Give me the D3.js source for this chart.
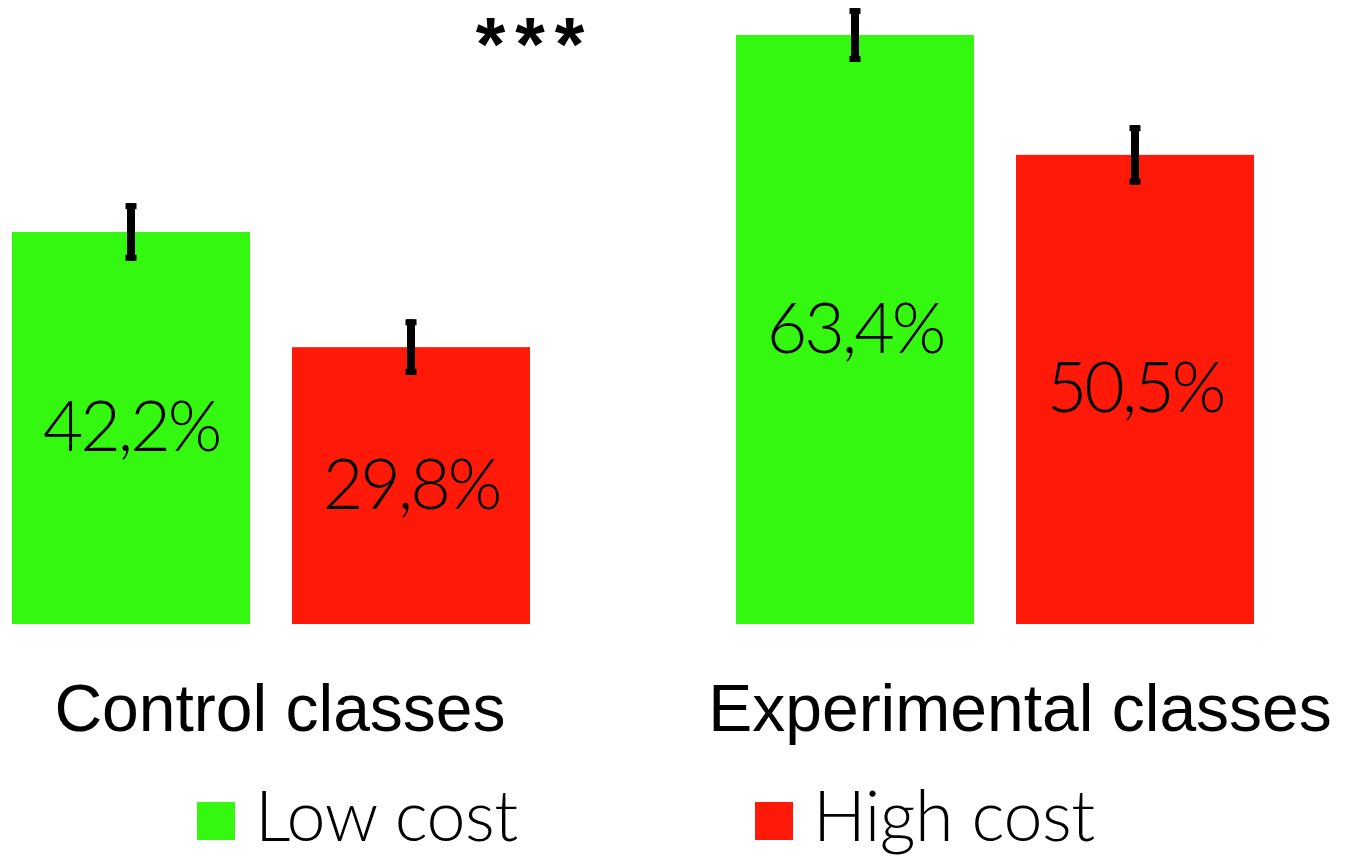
<!DOCTYPE html>
<html><head><meta charset="utf-8">
<script src="https://cdn.jsdelivr.net/npm/d3@7"></script>
<style>body{margin:0;background:#fff;}svg{display:block;}</style>
</head><body>
<svg id="chart" width="1348" height="856"></svg>
<script>
const groups = ["Control classes", "Experimental classes"];
const seriesNames = ["Low cost", "High cost"];
const lowCost = [42.2, 63.4];
const highCost = [29.8, 50.5];
const lowErr = [3.1, 2.9];
const highErr = [3.0, 3.2];
const valueLabels = [["42,2%", "29,8%"], ["63,4%", "50,5%"]];
const colors = ["#34f810", "#fe1909"];

const svg = d3.select("#chart");
const x0 = d3.scaleBand().domain(groups).range([12, 1254]).paddingInner(0.2845).paddingOuter(0);
const x1 = d3.scaleBand().domain(seriesNames).range([0, x0.bandwidth()]).paddingInner(0.15).paddingOuter(0);
const y = d3.scaleLinear().domain([0, 70]).range([624, 624 - 9.29 * 70]);

const data = [];
groups.forEach((g, i) => {
  data.push({g, s: seriesNames[0], v: lowCost[i], e: lowErr[i], label: valueLabels[i][0], c: colors[0]});
  data.push({g, s: seriesNames[1], v: highCost[i], e: highErr[i], label: valueLabels[i][1], c: colors[1]});
});

svg.selectAll("rect.bar").data(data).join("rect").attr("class", "bar")
  .attr("x", d => x0(d.g) + x1(d.s))
  .attr("y", d => y(d.v))
  .attr("width", x1.bandwidth())
  .attr("height", d => y(0) - y(d.v))
  .attr("fill", d => d.c);

svg.selectAll("text.val").data(data).join("text").attr("class", "val")
  .attr("x", d => x0(d.g) + x1(d.s) + x1.bandwidth() / 2)
  .attr("y", d => (y(d.v) + y(0)) / 2 - 4)
  .attr("text-anchor", "middle")
  .attr("dominant-baseline", "central")
  .attr("font-family", "Lato, 'Open Sans', sans-serif")
  .attr("font-weight", 300)
  .attr("font-size", 70)
  .attr("letter-spacing", -3)
  .attr("fill", "#000")
  .text(d => d.label);

// error bars
const eb = svg.selectAll("g.err").data(data).join("g").attr("class", "err");
eb.append("line")
  .attr("x1", d => x0(d.g) + x1(d.s) + x1.bandwidth() / 2)
  .attr("x2", d => x0(d.g) + x1(d.s) + x1.bandwidth() / 2)
  .attr("y1", d => y(d.v + d.e))
  .attr("y2", d => y(d.v - d.e))
  .attr("stroke", "#000").attr("stroke-width", 8);
eb.selectAll("rect.cap").data(d => [d.v + d.e, d.v - d.e].map(v => ({v, cx: x0(d.g) + x1(d.s) + x1.bandwidth() / 2, top: v > d.v})))
  .join("rect").attr("class", "cap")
  .attr("x", c => c.cx - 5.5)
  .attr("y", c => c.top ? y(c.v) : y(c.v) - 6)
  .attr("width", 11).attr("height", 6).attr("fill", "#000");

// category labels
svg.selectAll("text.cat").data(groups).join("text").attr("class", "cat")
  .attr("x", (g, i) => i === 0 ? 280 : 1020)
  .attr("y", 731)
  .attr("text-anchor", "middle")
  .attr("font-family", "'Liberation Sans', Arial, sans-serif")
  .attr("font-size", 66)
  .attr("fill", "#000")
  .text(g => g);

// significance
svg.append("text")
  .attr("x", 535).attr("y", 70)
  .attr("text-anchor", "middle")
  .attr("font-family", "'Liberation Sans', Arial, sans-serif")
  .attr("font-weight", "bold")
  .attr("font-size", 76)
  .attr("letter-spacing", 10)
  .text("***");

// legend
const legX = [197, 755];
const leg = svg.selectAll("g.leg").data(seriesNames).join("g").attr("class", "leg")
  .attr("transform", (s, i) => `translate(${legX[i]},0)`);
leg.append("rect").attr("x", 0).attr("y", 802).attr("width", 38).attr("height", 38)
  .attr("fill", (s, i) => colors[i]);
leg.append("text").attr("x", 58).attr("y", 841)
  .attr("font-family", "Lato, 'Open Sans', sans-serif")
  .attr("font-weight", 300)
  .attr("font-size", 70)
  .attr("letter-spacing", -0.5)
  .attr("fill", "#000")
  .text(s => s);
</script>
</body></html>
